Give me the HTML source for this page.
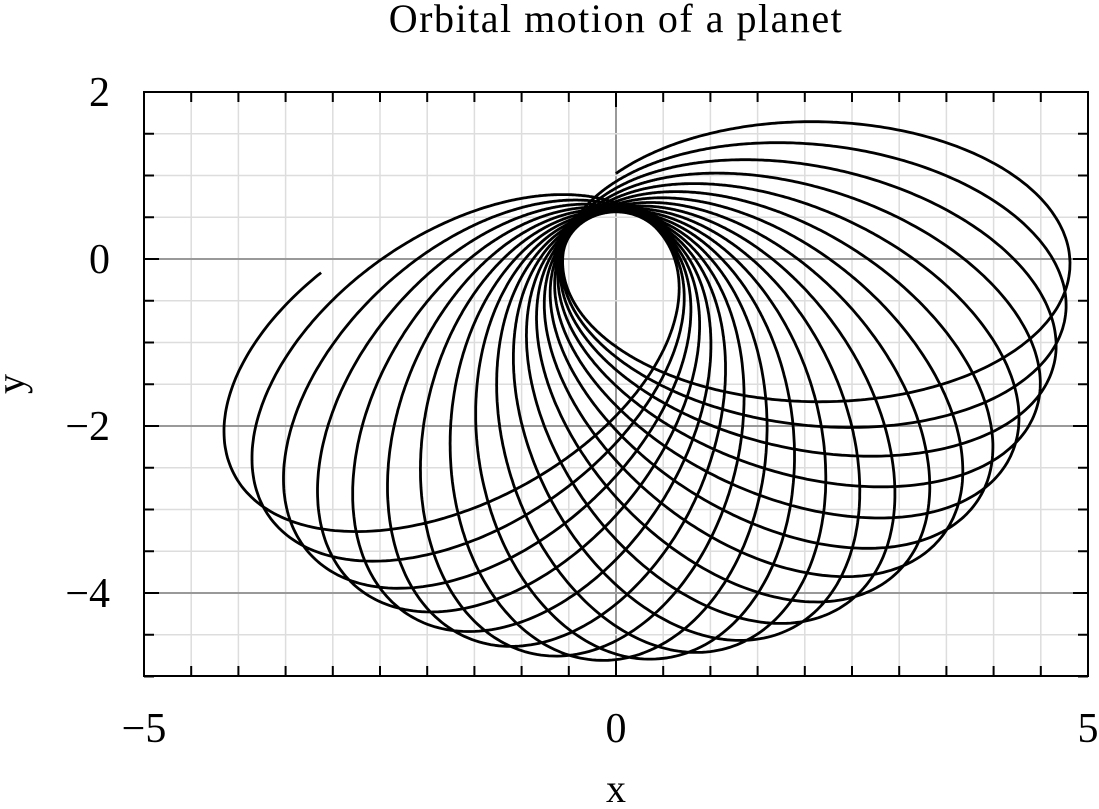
<!DOCTYPE html>
<html><head><meta charset="utf-8"><style>
html,body{margin:0;padding:0;background:#fff;}
svg text{font-family:"Liberation Serif",serif;fill:#000;}
</style></head><body>
<svg id="s" width="1099" height="804" viewBox="0 0 1099 804" xmlns="http://www.w3.org/2000/svg">
<rect width="1099" height="804" fill="#fff"/>
<g id="grid"></g>
<path id="orb" fill="none" stroke="#000" stroke-width="2.8" stroke-linejoin="round"/>
<g id="ticks"></g>
<rect x="144" y="92" width="944" height="584" fill="none" stroke="#000" stroke-width="2"/>
<text x="616" y="32" font-size="40" letter-spacing="1.5" text-anchor="middle">Orbital motion of a planet</text>
<text x="616" y="802" font-size="40" text-anchor="middle">x</text>
<text x="24" y="384" font-size="40" text-anchor="middle" transform="rotate(-90 24 384)">y</text>
<text x="144" y="742" font-size="42" text-anchor="middle">−5</text>
<text x="616" y="742" font-size="42" text-anchor="middle">0</text>
<text x="1088" y="742" font-size="42" text-anchor="middle">5</text>
<text x="110" y="106" font-size="42" text-anchor="end">2</text>
<text x="110" y="273" font-size="42" text-anchor="end">0</text>
<text x="110" y="440" font-size="42" text-anchor="end">−2</text>
<text x="110" y="607" font-size="42" text-anchor="end">−4</text>
</svg>
<script>
var X=function(x){return 616+x*94.4;},Y=function(y){return 259-y*83.5;};
var g='',t='';
for(var i=-10;i<=10;i++){var x=X(i*0.5);
 var maj=(i%10==0);
 if(i>-10&&i<10)g+='<line x1="'+x+'" y1="92" x2="'+x+'" y2="676" stroke="'+(maj?'#999':'#ddd')+'" stroke-width="'+(maj?2:1.5)+'"/>';
 var L=maj?15:10;
 t+='<line x1="'+x+'" y1="676" x2="'+x+'" y2="'+(676-L)+'" stroke="#000" stroke-width="2"/>';
 t+='<line x1="'+x+'" y1="92" x2="'+x+'" y2="'+(92+L)+'" stroke="#000" stroke-width="2"/>';}
for(var j=-10;j<=4;j++){var yv=j*0.5,y=Y(yv);
 var maj=(j%4==0);
 if(j>-10&&j<4)g+='<line x1="144" y1="'+y+'" x2="1088" y2="'+y+'" stroke="'+(maj?'#999':'#ddd')+'" stroke-width="'+(maj?2:1.5)+'"/>';
 var L=maj?15:10;
 t+='<line x1="144" y1="'+y+'" x2="'+(144+L)+'" y2="'+y+'" stroke="#000" stroke-width="2"/>';
 t+='<line x1="1088" y1="'+y+'" x2="'+(1088-L)+'" y2="'+y+'" stroke="#000" stroke-width="2"/>';}
document.getElementById('grid').innerHTML=g;document.getElementById('ticks').innerHTML=t;
var d2r=Math.PI/180,e=0.79,p=1.01;
var M=19,ph0=90,ph1=-177-360*M,k=147/(ph0-ph1);
var d='';
for(var ph=ph0;ph>=ph1;ph-=0.5){
 var w=181+k*(ph-90);
 var r=p/(1+e*Math.cos((ph-w)*d2r));
 var x=r*Math.cos(ph*d2r),y=r*Math.sin(ph*d2r);
 d+=(d?'L':'M')+X(x).toFixed(1)+' '+Y(y).toFixed(1);}
document.getElementById('orb').setAttribute('d',d);
</script>
</body></html>
